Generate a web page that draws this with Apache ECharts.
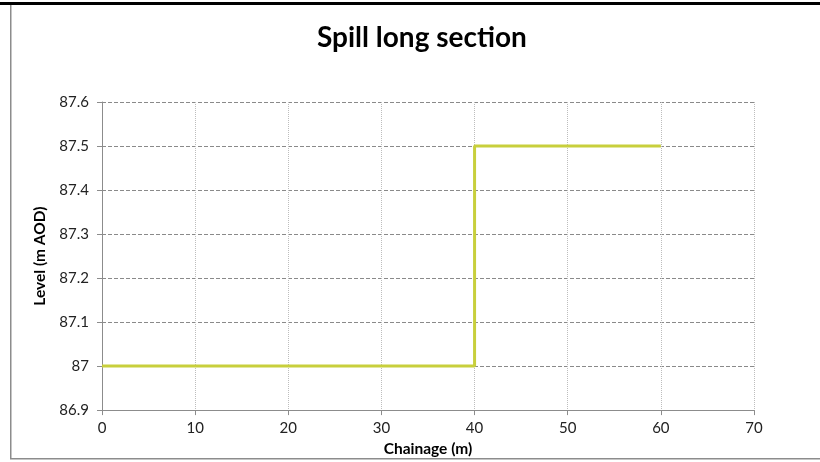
<!DOCTYPE html>
<html>
<head>
<meta charset="utf-8">
<script src="https://cdn.jsdelivr.net/npm/echarts@6/dist/echarts.min.js"></script>
<style>
  html, body { margin: 0; padding: 0; background: #ffffff; }
  #chart { width: 820px; height: 462px; }
</style>
</head>
<body>
<div id="chart"></div>
<script>
// Spill crest level along the chainage (step profile)
const chainage = [0, 40, 40, 60];
const level = [87.0, 87.0, 87.5, 87.5];

const xTicks = { min: 0, max: 70, interval: 10 };
const yTicks = { min: 86.9, max: 87.6, interval: 0.1 };

const FONT = 'Lato, "Open Sans", sans-serif';

const chart = echarts.init(document.getElementById('chart'), null, { renderer: 'canvas' });

chart.setOption({
  backgroundColor: '#ffffff',
  animation: false,
  title: {
    text: 'Spill long section',
    left: 312,
    top: 19,
    textStyle: { fontFamily: FONT, fontSize: 28, fontWeight: 'bold', color: '#000000' }
  },
  graphic: [
    { type: 'rect', shape: { x: 0, y: 2, width: 820, height: 3 }, style: { fill: '#000000' } },
    { type: 'rect', shape: { x: 10, y: 5, width: 1.5, height: 454 }, style: { fill: '#8c8c8c' } },
    { type: 'rect', shape: { x: 10, y: 458, width: 810, height: 1.5 }, style: { fill: '#8c8c8c' } }
  ],
  grid: { left: 102, right: 66, top: 102, bottom: 51, containLabel: false },
  xAxis: {
    type: 'value',
    min: xTicks.min, max: xTicks.max, interval: xTicks.interval,
    name: 'Chainage (m)',
    nameLocation: 'middle',
    nameGap: 27,
    nameTextStyle: { fontFamily: FONT, fontSize: 15.5, fontWeight: 'bold', color: '#000000' },
    axisLine: { show: true, onZero: false, lineStyle: { color: '#8c8c8c', width: 1 } },
    axisTick: { show: true, inside: false, length: 5, lineStyle: { color: '#8c8c8c' } },
    axisLabel: { fontFamily: FONT, fontSize: 15, color: '#222222', margin: 11 },
    splitLine: { show: true, lineStyle: { color: '#bdbdbd', type: [1, 1], width: 1 } }
  },
  yAxis: {
    type: 'value',
    min: yTicks.min, max: yTicks.max, interval: yTicks.interval,
    name: 'Level (m AOD)',
    nameLocation: 'middle',
    nameGap: 48,
    nameRotate: 90,
    nameTextStyle: { fontFamily: FONT, fontSize: 15.5, fontWeight: 'bold', color: '#000000' },
    axisLine: { show: true, onZero: false, lineStyle: { color: '#8c8c8c', width: 1 } },
    axisTick: { show: true, inside: false, length: 5, lineStyle: { color: '#8c8c8c' } },
    axisLabel: {
      fontFamily: FONT, fontSize: 15, color: '#222222', margin: 13,
      formatter: v => String(parseFloat(v.toFixed(1)))
    },
    splitLine: { show: true, lineStyle: { color: '#8a8a8a', type: [4, 2], width: 1 } }
  },
  series: [{
    type: 'line',
    data: chainage.map((c, i) => [c, level[i]]),
    showSymbol: false,
    symbol: 'none',
    lineStyle: { color: '#c8cf3c', width: 3 },
    z: 5
  }]
});
</script>
</body>
</html>
